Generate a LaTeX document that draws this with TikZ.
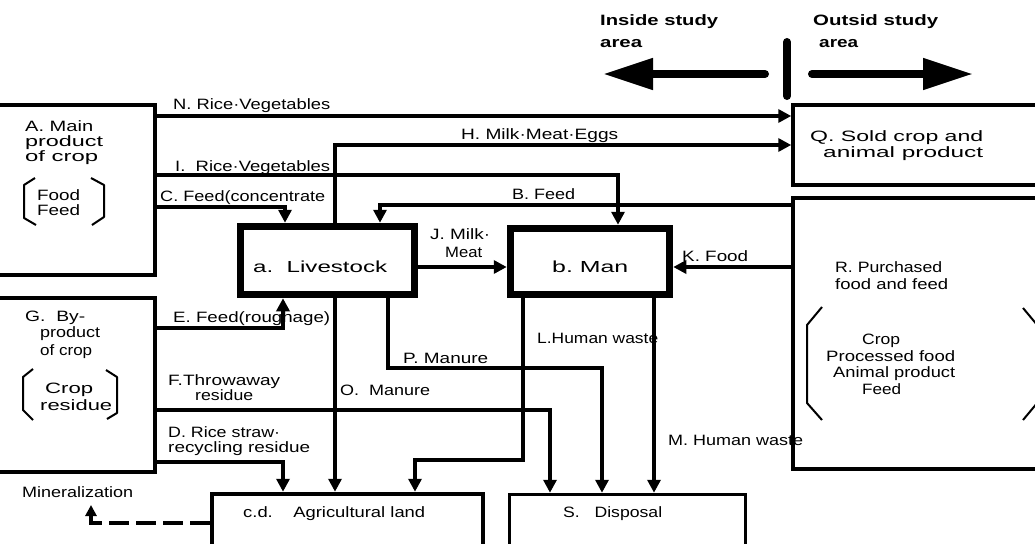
\documentclass[tikz,border=0pt]{standalone}
\usepackage{fontspec}
\usepackage{graphicx}
\setmainfont{Liberation Sans}
\usetikzlibrary{arrows.meta}
\newcommand{\tw}[2]{\resizebox{#1pt}{\height}{#2}}
\begin{document}
\begin{tikzpicture}[x=1pt,y=-1pt,
  box/.style={draw, rectangle, line width=3.5pt, inner sep=0pt},
  heavybox/.style={draw, rectangle, line width=7.5pt, inner sep=0pt},
  landbox/.style={draw, rectangle, line width=4.5pt, inner sep=0pt},
  conn/.style={line width=3.5pt},
  arr/.style={conn, -{Triangle[length=13pt,width=13pt]}},
  txt/.style={inner sep=0pt, anchor=base west, font=\fontsize{15}{17}\selectfont},
  btxt/.style={txt, font=\fontsize{15}{17}\selectfont\bfseries},
  brk/.style={line width=2pt, line join=round},
  bigarr/.style={line width=8pt, line cap=round, -{Triangle[length=50pt,width=30pt]}}
]
\useasboundingbox (0,0) rectangle (1035,543);
\clip (0,0) rectangle (1035,543);
\fill[white] (0,0) rectangle (1035,543);

% ---- boxes ----
\node[box, minimum width=165pt, minimum height=170pt] (A) at (72.5,190) {};
\node[box, minimum width=165pt, minimum height=174pt] (G) at (72.5,385) {};
\node[box, minimum width=252pt, minimum height=80pt] (Q) at (919,145) {};
\node[box, minimum width=252pt, minimum height=271pt] (R) at (919,333.5) {};
\node[heavybox, minimum width=174pt, minimum height=68pt] (LS) at (327.5,260.5) {};
\node[heavybox, minimum width=159pt, minimum height=66pt] (Man) at (590,261.5) {};
\node[landbox, minimum width=271pt, minimum height=76pt] (Ag) at (347.5,532) {};
\node[box, minimum width=236pt, minimum height=75pt] (Disp) at (627.5,532) {};

% ---- brackets ----
\draw[brk] (35,178) -- (24,185) -- (24,218) -- (36,225);
\draw[brk] (91,178) -- (104,185) -- (104,217) -- (92,225);
\draw[brk] (33,369) -- (23,377) -- (23,410) -- (33,420);
\draw[brk] (106,370) -- (117,377) -- (117,413) -- (107,419);
\draw[brk] (822,307) -- (807,325) -- (807,403) -- (822,420);
\draw[brk] (1023,308) -- (1038,326) -- (1038,402) -- (1023,420);

% ---- helper coordinates ----
\coordinate (yN) at (0,116);
\coordinate (yH) at (0,145);
\coordinate (xH) at (335,0);
\coordinate (yI) at (0,175);
\coordinate (xI) at (618,0);
\coordinate (yC) at (0,207);
\coordinate (xC) at (285,0);
\coordinate (yB) at (0,205);
\coordinate (xB) at (380,0);
\coordinate (yJ) at (0,267);
\coordinate (yE) at (0,328);
\coordinate (xE) at (283,0);
\coordinate (xP) at (388,0);
\coordinate (yP) at (0,368);
\coordinate (xP2) at (602,0);
\coordinate (xL) at (523,0);
\coordinate (yL) at (0,460);
\coordinate (xL2) at (415,0);
\coordinate (xM) at (654,0);
\coordinate (yF) at (0,410);
\coordinate (xF) at (550,0);
\coordinate (yD) at (0,462);
\coordinate (xD) at (283,0);
\coordinate (yMin) at (0,523);
\coordinate (minEnd) at (91,505);

% ---- connectors ----
\draw[arr] (A.east |- yN) -- (Q.west |- yN);
\draw[arr] (LS.north -| xH) |- (Q.west |- yH);
\draw[arr] (A.east |- yI) -| (Man.north -| xI);
\draw[arr] (A.east |- yC) -| (LS.north -| xC);
\draw[arr] (R.west |- yB) -| (LS.north -| xB);
\draw[arr] (LS.east |- yJ) -- (Man.west |- yJ);
\draw[arr] (R.west |- yJ) -- (Man.east |- yJ);
\draw[arr] (G.east |- yE) -| (LS.south -| xE);
\draw[arr] (LS.south -| xH) -- (Ag.north -| xH);
\draw[arr] (LS.south -| xP) |- (xP2 |- yP) -- (Disp.north -| xP2);
\draw[arr] (Man.south -| xL) |- (xL2 |- yL) -- (Ag.north -| xL2);
\draw[arr] (Man.south -| xM) -- (Disp.north -| xM);
\draw[arr] (G.east |- yF) -| (Disp.north -| xF);
\draw[arr] (G.east |- yD) -| (Ag.north -| xD);
\draw[conn, dash pattern=on 20pt off 7pt, -{Triangle[length=11pt,width=11pt]}] (Ag.west |- yMin) -| (minEnd);

% ---- study area arrows ----
\coordinate (inS) at (765,74);
\coordinate (inE) at (603,74);
\coordinate (outS) at (812,74);
\coordinate (outE) at (973,74);
\coordinate (barT) at (787,42);
\coordinate (barB) at (787,96);
\draw[bigarr] (inS) -- (inE);
\draw[bigarr] (outS) -- (outE);
\draw[line width=8pt, line cap=round] (barT) -- (barB);

% ---- texts ----
\node[btxt] (tIn1) at (600,26) {\tw{118}{Inside study}};
\node[btxt] (tIn2) at (600,48) {\tw{42}{area}};
\node[btxt] (tOut1) at (813,26) {\tw{125}{Outsid study}};
\node[btxt] (tOut2) at (819,48) {\tw{39}{area}};

\node[txt] (tN) at (173,109) {\tw{157}{N.\ Rice·Vegetables}};
\node[txt] (tH) at (461,139) {\tw{157}{H.\ Milk·Meat·Eggs}};
\node[txt] (tI) at (175,171) {\tw{155}{I.\ \ Rice·Vegetables}};
\node[txt] (tC) at (160,201) {\tw{165}{C.\ Feed(concentrate}};
\node[txt] (tB) at (512,199) {\tw{63}{B.\ Feed}};
\node[txt] (tJ1) at (430,239) {\tw{60}{J.\ Milk·}};
\node[txt] (tJ2) at (445,257) {\tw{37}{Meat}};
\node[txt] (tK) at (682,261) {\tw{66}{K.\ Food}};
\node[txt, font=\fontsize{16}{18}\selectfont] (tLS) at (253,272) {\tw{134}{a.\ \ Livestock}};
\node[txt, font=\fontsize{16}{18}\selectfont] (tMan) at (552,272) {\tw{76}{b.\ Man}};
\node[txt] (tE) at (173,322) {\tw{157}{E.\ Feed(roughage)}};
\node[txt] (tP) at (403,363) {\tw{85}{P.\ Manure}};
\node[txt] (tL) at (537,343) {\tw{121}{L.Human waste}};
\node[txt] (tF1) at (168,385) {\tw{112}{F.Throwaway}};
\node[txt] (tF2) at (195,400) {\tw{58}{residue}};
\node[txt] (tO) at (340,395) {\tw{90}{O.\ \ Manure}};
\node[txt] (tD1) at (168,437) {\tw{112}{D.\ Rice straw·}};
\node[txt] (tD2) at (168,452) {\tw{142}{recycling residue}};
\node[txt] (tM) at (668,445) {\tw{135}{M.\ Human waste}};
\node[txt] (tMin) at (22,497) {\tw{111}{Mineralization}};
\node[txt] (tAg) at (243,517) {\tw{182}{c.d.\ \ \ \ Agricultural land}};
\node[txt] (tS) at (563,517) {\tw{99}{S.\ \ \ Disposal}};

\node[txt] (tA1) at (25,131) {\tw{68}{A.\ Main}};
\node[txt] (tA2) at (25,146) {\tw{78}{product}};
\node[txt] (tA3) at (25,161) {\tw{73}{of crop}};
\node[txt] (tFood) at (37,200) {\tw{43}{Food}};
\node[txt] (tFeed) at (37,215) {\tw{43}{Feed}};

\node[txt] (tG1) at (25,321) {\tw{60}{G.\ \ By-}};
\node[txt] (tG2) at (40,337) {\tw{60}{product}};
\node[txt] (tG3) at (40,355) {\tw{52}{of crop}};
\node[txt] (tCrop) at (45,393) {\tw{48}{Crop}};
\node[txt] (tRes) at (40,410) {\tw{72}{residue}};

\node[txt] (tQ1) at (810,141) {\tw{173}{Q.\ Sold crop and}};
\node[txt] (tQ2) at (823,157) {\tw{160}{animal product}};

\node[txt] (tR1) at (835,272) {\tw{107}{R.\ Purchased}};
\node[txt] (tR2) at (835,289) {\tw{113}{food and feed}};
\node[txt] (tRc1) at (862,344) {\tw{38}{Crop}};
\node[txt] (tRc2) at (826,361) {\tw{129}{Processed food}};
\node[txt] (tRc3) at (833,377) {\tw{122}{Animal product}};
\node[txt] (tRc4) at (862,394) {\tw{39}{Feed}};
\end{tikzpicture}
\end{document}
